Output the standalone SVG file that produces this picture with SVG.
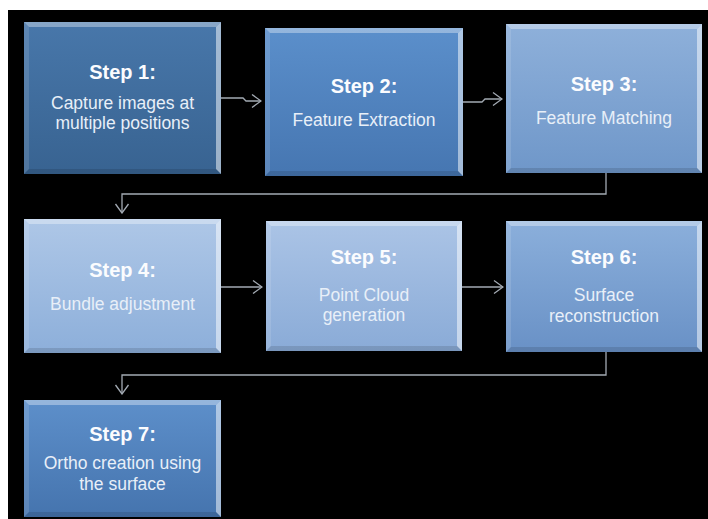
<svg xmlns="http://www.w3.org/2000/svg" width="708" height="519" viewBox="0 0 708 519">
<defs>
<style>
.bg{fill:#000}
.h{font-family:"Liberation Sans",Arial,sans-serif;font-weight:bold;font-size:20px;fill:#fbfcfe;text-anchor:middle}
.b{font-family:"Liberation Sans",Arial,sans-serif;font-size:17.5px;fill:#e8eff8;text-anchor:middle}
.bt{fill:#fff;fill-opacity:0.35}
.br{fill:#fff;fill-opacity:0.5}
.bl{fill:#fff;fill-opacity:0.12}
.bb{fill:#000;fill-opacity:0.12}
.c{fill:none;stroke:#a3aab3;stroke-width:1.3}
</style>
<marker id="ah" markerUnits="userSpaceOnUse" markerWidth="12" markerHeight="16" viewBox="-11 -8 12 16" refX="0" refY="0" orient="auto">
<path d="M-9,-6.5 L0,0 L-9,6.5" fill="none" stroke="#a3aab3" stroke-width="1.3"/>
</marker>
<linearGradient id="g1" x1="0" y1="0" x2="0" y2="1"><stop offset="0" stop-color="#4877aa"/><stop offset="1" stop-color="#386391"/></linearGradient>
<linearGradient id="g2" x1="0" y1="0" x2="0" y2="1"><stop offset="0" stop-color="#5b8fcb"/><stop offset="1" stop-color="#4676b1"/></linearGradient>
<linearGradient id="g3" x1="0" y1="0" x2="0" y2="1"><stop offset="0" stop-color="#8eb0da"/><stop offset="1" stop-color="#6f97c9"/></linearGradient>
<linearGradient id="g4" x1="0" y1="0" x2="0" y2="1"><stop offset="0" stop-color="#aec7e7"/><stop offset="1" stop-color="#8dafda"/></linearGradient>
<linearGradient id="g5" x1="0" y1="0" x2="0" y2="1"><stop offset="0" stop-color="#abc4e6"/><stop offset="1" stop-color="#8aabd7"/></linearGradient>
<linearGradient id="g6" x1="0" y1="0" x2="0" y2="1"><stop offset="0" stop-color="#8bafdb"/><stop offset="1" stop-color="#6991c6"/></linearGradient>
<linearGradient id="g7" x1="0" y1="0" x2="0" y2="1"><stop offset="0" stop-color="#5d8fca"/><stop offset="1" stop-color="#4574ae"/></linearGradient>
</defs>
<rect x="0" y="0" width="708" height="519" fill="#fff"/>
<rect class="bg" x="8" y="10" width="700" height="509"/>

<g id="connectors">
<path class="c" d="M221,98 H243 L246,101 H261" marker-end="url(#ah)"/>
<path class="c" d="M463,102 H482 L485,99 H502" marker-end="url(#ah)"/>
<path class="c" d="M606,173 V194 H122 V213" marker-end="url(#ah)"/>
<path class="c" d="M221,287 H262" marker-end="url(#ah)"/>
<path class="c" d="M462,287 H503" marker-end="url(#ah)"/>
<path class="c" d="M606,352 V375 H122 V394" marker-end="url(#ah)"/>
</g>

<g id="step1">
<rect x="24" y="22" width="197" height="152" fill="url(#g1)"/>
<polygon class="bt" points="24,22 221,22 216,27 29,27"/>
<polygon class="br" points="221,22 221,174 216,169 216,27"/>
<polygon class="bl" points="24,22 29,27 29,169 24,174"/>
<polygon class="bb" points="24,174 221,174 216,169 29,169"/>
<text class="h" x="122.5" y="79">Step 1:</text>
<text class="b" x="122.5" y="109">Capture images at</text>
<text class="b" x="122.5" y="129">multiple positions</text>
</g>

<g id="step2">
<rect x="265" y="28" width="198" height="148" fill="url(#g2)"/>
<polygon class="bt" points="265,28 463,28 458,33 270,33"/>
<polygon class="br" points="463,28 463,176 458,171 458,33"/>
<polygon class="bl" points="265,28 270,33 270,171 265,176"/>
<polygon class="bb" points="265,176 463,176 458,171 270,171"/>
<text class="h" x="364" y="93">Step 2:</text>
<text class="b" x="364" y="126">Feature Extraction</text>
</g>

<g id="step3">
<rect x="506" y="24" width="196" height="149" fill="url(#g3)"/>
<polygon class="bt" points="506,24 702,24 697,29 511,29"/>
<polygon class="br" points="702,24 702,173 697,168 697,29"/>
<polygon class="bl" points="506,24 511,29 511,168 506,173"/>
<polygon class="bb" points="506,173 702,173 697,168 511,168"/>
<text class="h" x="604" y="91">Step 3:</text>
<text class="b" x="604" y="124">Feature Matching</text>
</g>

<g id="step4">
<rect x="24" y="219" width="197" height="134" fill="url(#g4)"/>
<polygon class="bt" points="24,219 221,219 216,224 29,224"/>
<polygon class="br" points="221,219 221,353 216,348 216,224"/>
<polygon class="bl" points="24,219 29,224 29,348 24,353"/>
<polygon class="bb" points="24,353 221,353 216,348 29,348"/>
<text class="h" x="122.5" y="277">Step 4:</text>
<text class="b" x="122.5" y="310">Bundle adjustment</text>
</g>

<g id="step5">
<rect x="266" y="221" width="196" height="130" fill="url(#g5)"/>
<polygon class="bt" points="266,221 462,221 457,226 271,226"/>
<polygon class="br" points="462,221 462,351 457,346 457,226"/>
<polygon class="bl" points="266,221 271,226 271,346 266,351"/>
<polygon class="bb" points="266,351 462,351 457,346 271,346"/>
<text class="h" x="364" y="264">Step 5:</text>
<text class="b" x="364" y="301">Point Cloud</text>
<text class="b" x="364" y="321">generation</text>
</g>

<g id="step6">
<rect x="506" y="221" width="196" height="131" fill="url(#g6)"/>
<polygon class="bt" points="506,221 702,221 697,226 511,226"/>
<polygon class="br" points="702,221 702,352 697,347 697,226"/>
<polygon class="bl" points="506,221 511,226 511,347 506,352"/>
<polygon class="bb" points="506,352 702,352 697,347 511,347"/>
<text class="h" x="604" y="264">Step 6:</text>
<text class="b" x="604" y="301">Surface</text>
<text class="b" x="604" y="322">reconstruction</text>
</g>

<g id="step7">
<rect x="24" y="400" width="197" height="117" fill="url(#g7)"/>
<polygon class="bt" points="24,400 221,400 216,405 29,405"/>
<polygon class="br" points="221,400 221,517 216,512 216,405"/>
<polygon class="bl" points="24,400 29,405 29,512 24,517"/>
<polygon class="bb" points="24,517 221,517 216,512 29,512"/>
<text class="h" x="122.5" y="441">Step 7:</text>
<text class="b" x="122.5" y="469">Ortho creation using</text>
<text class="b" x="122.5" y="490">the surface</text>
</g>
</svg>
